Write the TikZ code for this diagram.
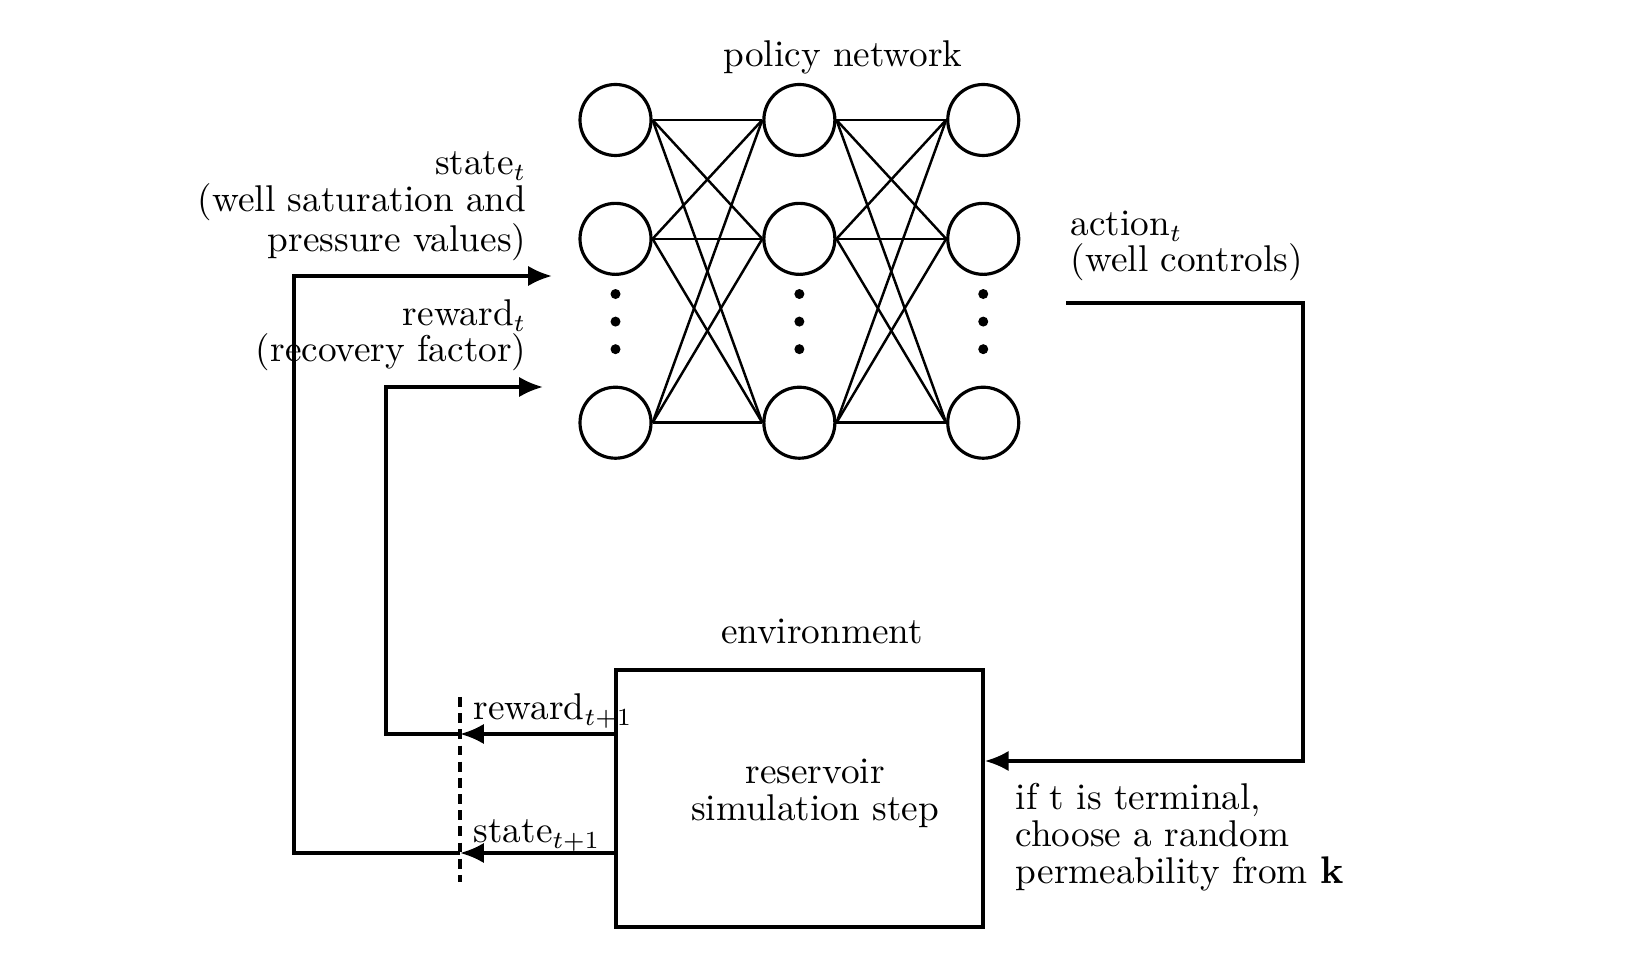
\documentclass[tikz,border=0pt]{standalone}
\usepackage{amsmath,amssymb}
\usepackage{tikz}
\usetikzlibrary{calc,positioning,arrows.meta}
\tikzset{
    >={Latex[length=6.8pt,width=5.8pt]},
    neuron/.style={
        circle,
        draw, line width=0.9pt,
        minimum size=0.71cm,
        inner sep=0pt
    },
    blob/.style={circle, fill, inner sep=0pt, minimum size=0.1cm},
    envbox/.style={
        rectangle,
        draw, line width=1pt,
        minimum width=3.67cm,
        minimum height=2.57cm
    },
    line/.style={draw, line width=1pt},
    link/.style={line width=0.7pt},
    txt/.style={inner sep=0pt},
    font={\fontsize{10.6pt}{10.4pt}\selectfont},
}
\begin{document}
\begin{tikzpicture}
    \useasboundingbox (0,0) rectangle (16.35,-9.54);

    % Setup the layers of the network
    \tikzset{node distance=0.447cm and 1.097cm}

    \node[neuron] at (6.155,-1.20)      (i1) {};
    \node[neuron, below=of i1]          (i2) {};
    \node[neuron, below=1.097cm of i2]  (i3) {};

    \node[neuron, right=of i1]  (h1) {};
    \node[neuron, right=of i2]  (h2) {};
    \node[neuron, right=of i3]  (h3) {};

    \node[neuron, right=of h1]  (o1) {};
    \node[neuron, right=of h2]  (o2) {};
    \node[neuron, right=of h3]  (o3) {};

    % Dots between the second and the last neuron
    \foreach \c in {i,h,o} {
        \node[blob] at ($(\c2)!0.30!(\c3)$) (\c dot1) {};
        \node[blob] at ($(\c2)!0.45!(\c3)$) (\c dot2) {};
        \node[blob] at ($(\c2)!0.60!(\c3)$) (\c dot3) {};
    }

    \foreach \a in {1,2,3}
        \foreach \b in {1,2,3} {
            \draw[link] (i\a.east) -- (h\b.west);
            \draw[link] (h\a.east) -- (o\b.west);
        }

    \node[txt, anchor=base] at (8.43,-0.67) (polname) {policy network};

    % base is the baseline of the last line
    \node[txt, align=right, anchor=base east] at (5.27,-2.52) (statetxt)
        {state$_t$\\(well saturation and\\pressure values)};
    \node[txt, align=right, anchor=base east] at (5.27,-3.62) (rewtxt)
        {reward$_t$\\(recovery factor)};
    \node[txt, align=left, anchor=base west] at (10.70,-2.72) (acttxt)
        {action$_t$\\(well controls)};

    % Environment
    \node[txt, anchor=base] at (8.22,-6.44) (envname) {environment};
    \node[envbox] at (7.995,-7.985) (sim) {};
    \node[txt, align=center, anchor=base] at (8.15,-8.20) (simtxt)
        {reservoir\\simulation step};
    \node[txt, align=left, anchor=base west] at (10.15,-8.83) (termtxt)
        {if t is terminal,\\choose a random\\permeability from $\mathbf{k}$};

    \node[txt, anchor=base west] at (4.73,-7.20) (rwnext) {reward$_{t+1}$};
    \node[txt, anchor=base west] at (4.73,-8.43) (stnext) {state$_{t+1}$};

    % Ends of the connectors
    \coordinate (stin)   at (5.52,-2.76);
    \coordinate (rwin)   at (5.43,-3.87);
    \coordinate (acout)  at (10.66,-3.03);
    \coordinate (acin)   at (13.03,-7.61);
    \coordinate (rwcut)  at (4.60,-7.34);
    \coordinate (stcut)  at (4.60,-8.53);
    \coordinate (cuttop) at (4.60,-6.97);
    \coordinate (cutbot) at (4.60,-8.82);

    \draw[line, ->] (sim.west |- rwcut) -- (rwcut);
    \draw[line, ->] (sim.west |- stcut) -- (stcut);
    \draw[line, ->] (rwcut) -- ++(-0.74,0) |- (rwin);
    \draw[line, ->] (stcut) -- ++(-1.66,0) |- (stin);
    \draw[line, ->] (acout) -| (acin) -- (sim.east |- acin);

    \draw[line width=1pt, dash pattern=on 2.8pt off 1.8pt] (cuttop) -- (cutbot);

\end{tikzpicture}
\end{document}
